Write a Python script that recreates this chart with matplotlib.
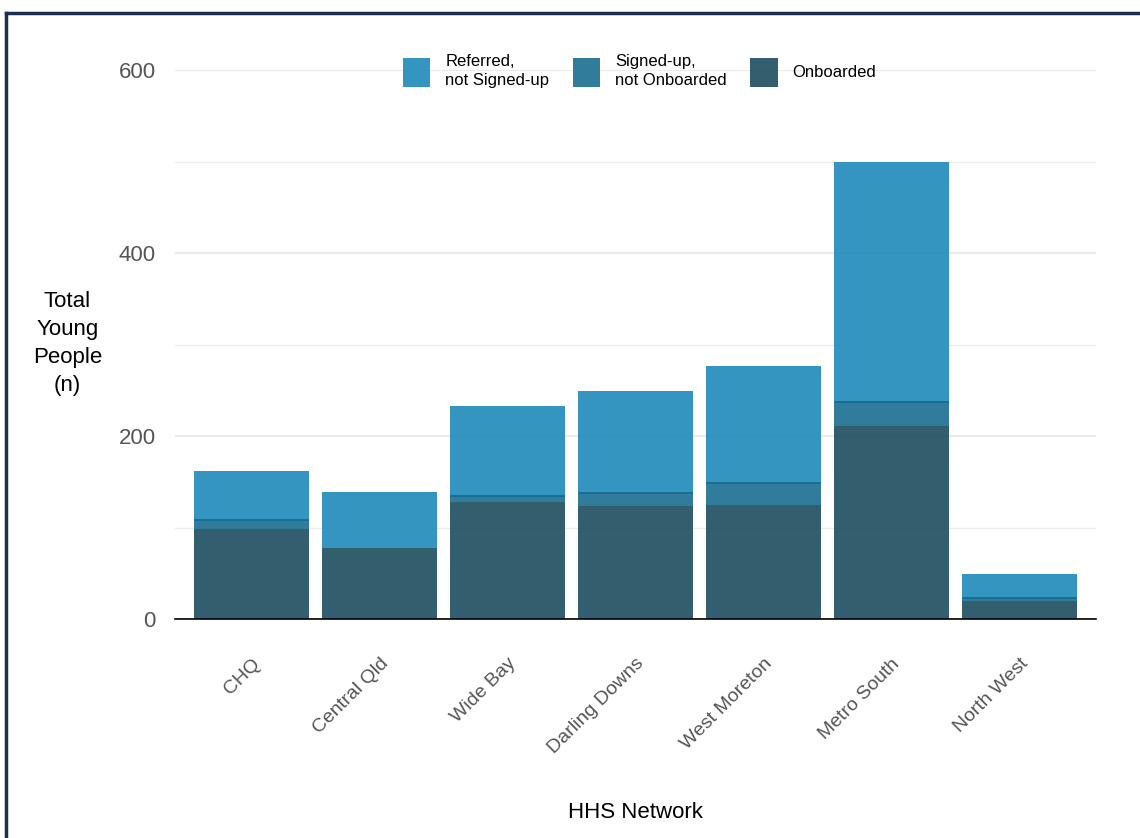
import matplotlib
matplotlib.use('Agg')
import matplotlib.pyplot as plt
import numpy as np
from matplotlib.patches import Patch
from matplotlib.lines import Line2D

plt.rcParams['font.family'] = ['Liberation Sans', 'DejaVu Sans']

# referrals by HHS network
networks = ['CHQ', 'Central Qld', 'Wide Bay', 'Darling Downs', 'West Moreton', 'Metro South', 'North West']
onboarded = [98, 78, 128, 123, 125, 211, 20]
signed_up = [10, 0, 6, 15, 24, 26, 3]
referred = [54, 61, 99, 111, 128, 262, 26]

series_labels = ['Referred,\nnot Signed-up', 'Signed-up,\nnot Onboarded', 'Onboarded']
col_ref = '#1f8abb'
col_sign = '#1c6e90'
col_onb = '#1d4c5e'

fig = plt.figure(figsize=(11.4, 8.38), dpi=100)
ax = fig.add_axes([0.1535, 0.2613, 0.8079, 0.6551])

x = np.arange(len(networks))
onboarded = np.array(onboarded)
signed_up = np.array(signed_up)
referred = np.array(referred)

w = 0.9
ax.bar(x, onboarded, width=w, color=col_onb, alpha=0.9, linewidth=0, zorder=2)
ax.bar(x, signed_up, width=w, bottom=onboarded, color=col_sign, alpha=0.9, linewidth=0, zorder=2)
ax.bar(x, referred, width=w, bottom=onboarded + signed_up, color=col_ref, alpha=0.9, linewidth=0, zorder=2)

# thin edge where the referred segment sits on the signed-up one
tops = onboarded + signed_up
for xi, t, s in zip(x, tops, signed_up):
    if s > 0:
        ax.hlines(t, xi - w / 2, xi + w / 2, color='#156d93', linewidth=1.3, zorder=3)

ax.set_xlim(-0.6, len(networks) - 0.4)
ax.set_ylim(0, 600)
ax.set_yticks([0, 200, 400, 600])
ax.set_yticks([100, 300, 500], minor=True)
ax.grid(axis='y', which='major', color='#ebebeb', linewidth=1.6, zorder=0)
ax.grid(axis='y', which='minor', color='#ebebeb', linewidth=0.9, zorder=0)
ax.set_axisbelow(True)

for side in ['top', 'right', 'left']:
    ax.spines[side].set_visible(False)
ax.spines['bottom'].set_color('black')
ax.spines['bottom'].set_linewidth(1.2)

ax.tick_params(axis='y', which='both', length=0, pad=14, labelsize=16, labelcolor='#555555')
ax.tick_params(axis='x', length=0, pad=26, labelsize=14, labelcolor='#555555')
ax.set_xticks(x)
ax.set_xticklabels(networks, rotation=45, ha='right', rotation_mode='anchor')

# axis titles
fig.text(0.557, 0.031, 'HHS Network', fontsize=16, ha='center', va='center')
fig.text(0.059, 0.590, 'Total\nYoung\nPeople\n(n)', fontsize=16, ha='center', va='center',
         linespacing=1.45)

handles = [Patch(facecolor=col_ref, alpha=0.9), Patch(facecolor=col_sign, alpha=0.9),
           Patch(facecolor=col_onb, alpha=0.9)]
leg = fig.legend(handles, series_labels, loc='upper center', bbox_to_anchor=(0.561, 0.943), ncol=3,
                 frameon=False, fontsize=12, handlelength=1.65, handleheight=2.3,
                 columnspacing=1.4, handletextpad=0.9, borderaxespad=0)
for t in leg.get_texts():
    t.set_linespacing(1.3)

# dark frame on the top and left
fig.add_artist(Line2D([0.005, 1.0], [0.984, 0.984], color='#1c2e4f', linewidth=2.5,
                      transform=fig.transFigure))
fig.add_artist(Line2D([0.005, 0.005], [0.0, 0.984], color='#1c2e4f', linewidth=2.5,
                      transform=fig.transFigure))

fig.savefig('out.png', dpi=100)
